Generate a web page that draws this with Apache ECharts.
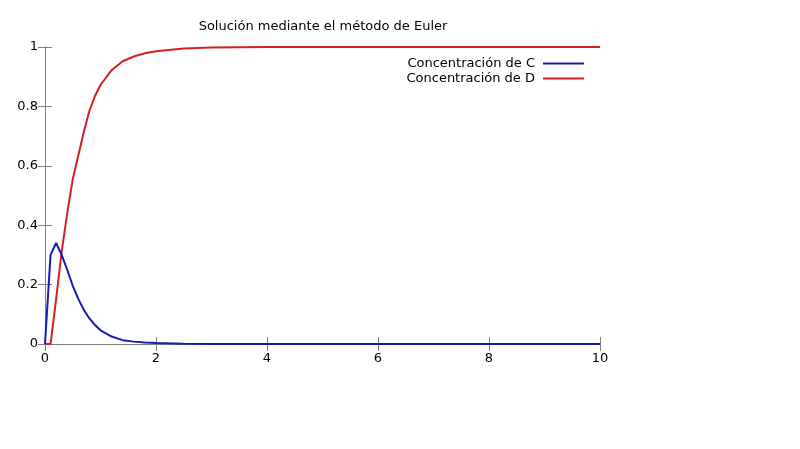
<!DOCTYPE html>
<html><head><meta charset="utf-8">
<script src="https://cdn.jsdelivr.net/npm/echarts@6/dist/echarts.min.js"></script>
<style>html,body{margin:0;padding:0;background:#fff}#c{width:800px;height:449px}</style>
</head><body><div id="c"></div>
<script>
var title = 'Solución mediante el método de Euler';
var seriesNames = ['Concentración de C', 'Concentración de D'];
var tValues = [0, 0.1, 0.2, 0.3, 0.4, 0.5, 0.6, 0.7, 0.8, 0.9, 1.0, 1.2, 1.4, 1.6, 1.8, 2.0, 2.5, 3.0, 3.5, 4, 6, 8, 10];
var cValues = [0, 0.30, 0.34, 0.30, 0.25, 0.196, 0.152, 0.115, 0.086, 0.064, 0.046, 0.025, 0.013, 0.008, 0.005, 0.003, 0.001, 0.0003, 0, 0, 0, 0, 0];
var dValues = [0, 0, 0.15, 0.31, 0.44, 0.555, 0.635, 0.715, 0.785, 0.835, 0.872, 0.922, 0.952, 0.968, 0.979, 0.986, 0.995, 0.998, 0.999, 1, 1, 1, 1];
var xTicks = [0, 2, 4, 6, 8, 10];
var yTicks = [0, 0.2, 0.4, 0.6, 0.8, 1];

function pairs(xs, ys) { return xs.map(function (x, i) { return [x, ys[i]]; }); }

var font = 'DejaVu Sans, Verdana, sans-serif';
var border = '#808080';
var chart = echarts.init(document.getElementById('c'));
chart.setOption({
  animation: false,
  backgroundColor: '#fff',
  title: {
    text: title, left: 318, top: 15, textAlign: 'center',
    textStyle: { fontFamily: font, fontSize: 13, fontWeight: 'normal', color: '#000' }
  },
  legend: {
    orient: 'vertical', right: 211, top: 52, align: 'right',
    itemWidth: 41, itemHeight: 2, itemGap: 2,
    icon: 'rect',
    textStyle: { fontFamily: font, fontSize: 13, color: '#000', padding: [0, 3, 0, 0] },
    data: seriesNames
  },
  grid: { left: 45, right: 200, top: 47, bottom: 105 },
  xAxis: [{
    type: 'value', min: 0, max: 10, interval: 2,
    axisLine: { show: true, lineStyle: { color: border, width: 1 } },
    axisTick: { show: true, inside: true, length: 7, lineStyle: { color: border } },
    axisLabel: { fontFamily: font, fontSize: 13, color: '#000', margin: 8 },
    splitLine: { show: false }
  }, {
    type: 'value', min: 0, max: 10, interval: 2, position: 'top',
    axisLine: { show: true, lineStyle: { color: border, width: 1 } },
    axisTick: { show: true, inside: true, length: 7, lineStyle: { color: border } },
    axisLabel: { show: false }, splitLine: { show: false }
  }],
  yAxis: [{
    type: 'value', min: 0, max: 1, interval: 0.2,
    axisLine: { show: true, lineStyle: { color: border, width: 1 } },
    axisTick: { show: true, inside: true, length: 7, lineStyle: { color: border } },
    axisLabel: { fontFamily: font, fontSize: 13, color: '#000', margin: 7,
      formatter: function (v) { return String(Math.round(v * 10) / 10); } },
    splitLine: { show: false }
  }, {
    type: 'value', min: 0, max: 1, interval: 0.2, position: 'right',
    axisLine: { show: true, lineStyle: { color: border, width: 1 } },
    axisTick: { show: true, inside: true, length: 7, lineStyle: { color: border } },
    axisLabel: { show: false }, splitLine: { show: false }
  }],
  series: [{
    name: seriesNames[0], type: 'line', smooth: false, symbol: 'none',
    color: '#1a1ab5', lineStyle: { width: 2, color: '#1a1ab5' },
    data: pairs(tValues, cValues), z: 3
  }, {
    name: seriesNames[1], type: 'line', smooth: false, symbol: 'none',
    color: '#d42020', lineStyle: { width: 2, color: '#d42020' },
    data: pairs(tValues, dValues), z: 2
  }]
});
</script>
</body></html>
